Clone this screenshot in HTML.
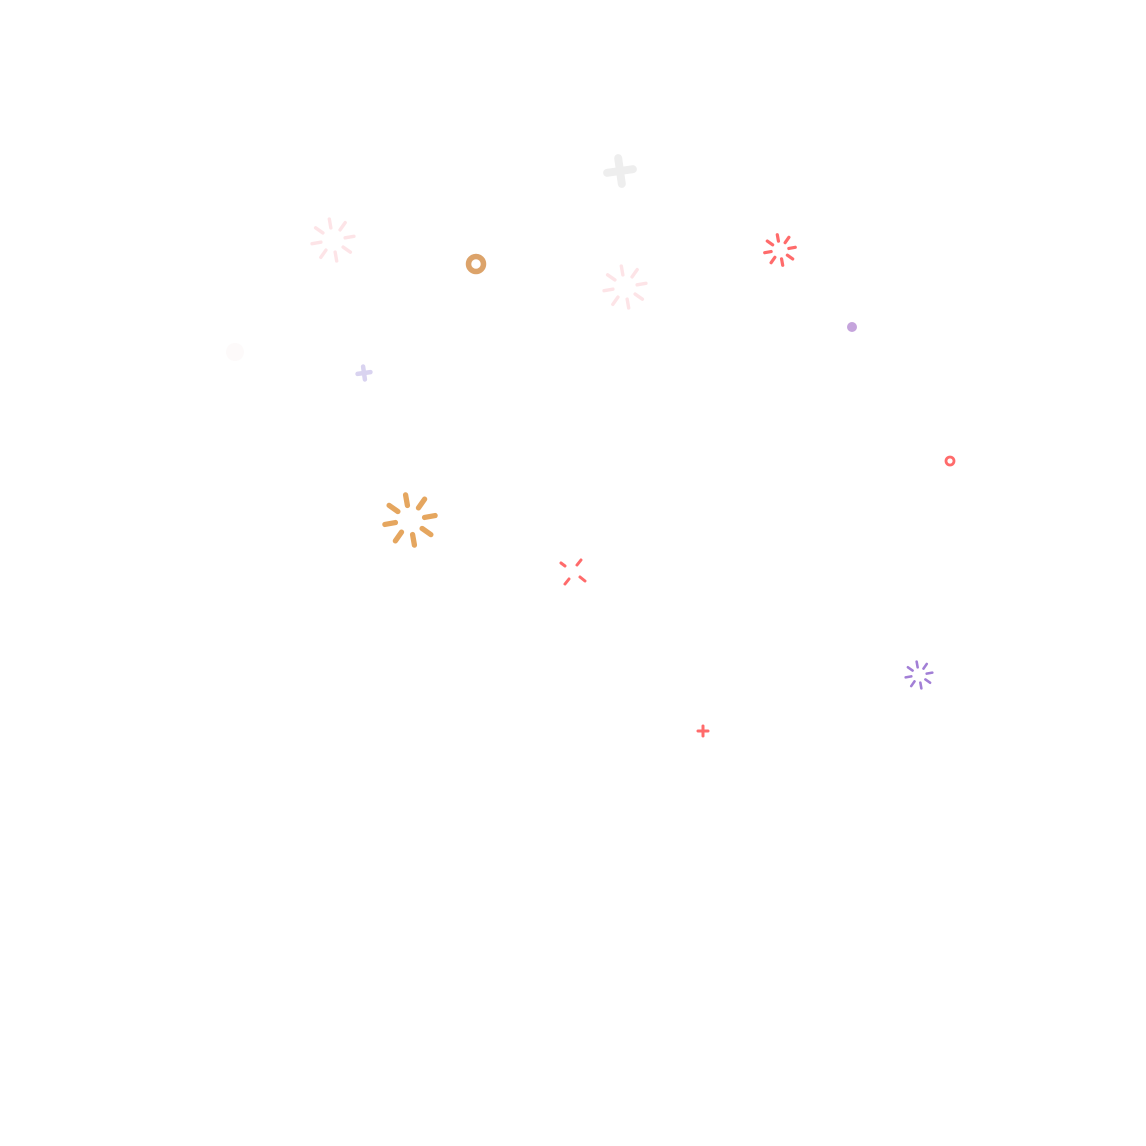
<!DOCTYPE html>
<html><head><meta charset="utf-8"><style>
html,body{margin:0;padding:0;background:#fff;width:1146px;height:1146px;overflow:hidden}
svg{display:block}
</style></head><body>
<svg width="1146" height="1146" viewBox="0 0 1146 1146" xmlns="http://www.w3.org/2000/svg" stroke-linecap="round" fill="none">
<defs>
<g id="b">
<line x1="0" y1="-1.45" x2="0" y2="-2.5" transform="rotate(-10)"/>
<line x1="0" y1="-1.45" x2="0" y2="-2.5" transform="rotate(35)"/>
<line x1="0" y1="-1.45" x2="0" y2="-2.5" transform="rotate(80)"/>
<line x1="0" y1="-1.45" x2="0" y2="-2.5" transform="rotate(125)"/>
<line x1="0" y1="-1.45" x2="0" y2="-2.5" transform="rotate(170)"/>
<line x1="0" y1="-1.45" x2="0" y2="-2.5" transform="rotate(215)"/>
<line x1="0" y1="-1.45" x2="0" y2="-2.5" transform="rotate(260)"/>
<line x1="0" y1="-1.45" x2="0" y2="-2.5" transform="rotate(305)"/>
</g>
</defs>
<use href="#b" transform="translate(410,520) scale(10.2)" stroke="#e5a65f" stroke-width="0.52"/>
<use href="#b" transform="translate(333,240) scale(8.5)" stroke="#fde4e7" stroke-width="0.4"/>
<use href="#b" transform="translate(625,287) scale(8.5)" stroke="#fde4e7" stroke-width="0.4"/>
<use href="#b" transform="translate(780,250) scale(6.2)" stroke="#ff6b6b" stroke-width="0.52"/>
<use href="#b" transform="translate(919,675) scale(5.4)" stroke="#a27fd6" stroke-width="0.48"/>
<g stroke="#ff6b6b" stroke-width="3" transform="translate(573,572)">
<line x1="-8" y1="-6" x2="-12" y2="-9"/>
<line x1="4" y1="-7" x2="8" y2="-12"/>
<line x1="7" y1="5" x2="12" y2="9"/>
<line x1="-4" y1="7" x2="-8" y2="12"/>
</g>
<g stroke="#eeeeee" stroke-width="8" transform="translate(620,171) rotate(-8)">
<line x1="-13" y1="0" x2="13" y2="0"/><line x1="0" y1="-13" x2="0" y2="13"/>
</g>
<g stroke="#d9d3f0" stroke-width="4.5" transform="translate(364,373) rotate(-8)">
<line x1="-6.5" y1="0" x2="6.5" y2="0"/><line x1="0" y1="-6.5" x2="0" y2="6.5"/>
</g>
<circle cx="235" cy="352" r="9" fill="#fdfafa"/>
<g stroke="#ff6b6b" stroke-width="3" transform="translate(703,731)">
<line x1="-5" y1="0" x2="5" y2="0"/><line x1="0" y1="-5" x2="0" y2="5"/>
</g>
<circle cx="476" cy="264" r="7.5" stroke="#dca36a" stroke-width="5.5"/>
<circle cx="852" cy="327" r="5" fill="#c5a4dc"/>
<circle cx="950" cy="461" r="4" stroke="#ff6b6b" stroke-width="2.8"/>
</svg>
</body></html>
